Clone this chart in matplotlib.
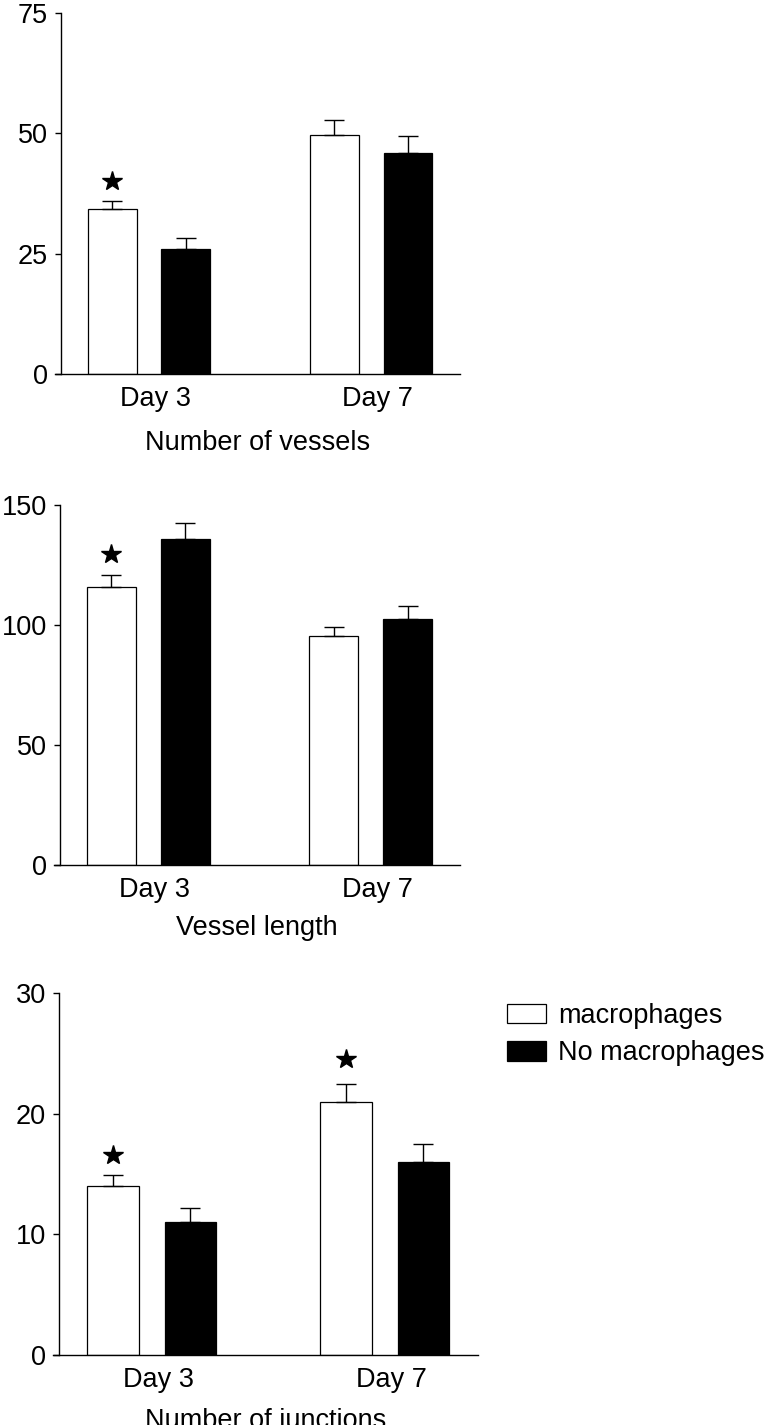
#!/usr/bin/env python3
import numpy as np
import matplotlib
matplotlib.use("Agg")
import matplotlib.pyplot as plt
from matplotlib.patches import Patch

plt.rcParams["font.family"] = ["Liberation Sans", "DejaVu Sans"]

###############################################################################
# Data
###############################################################################

DAYS = ["Day 3", "Day 7"]
SERIES = ["macrophages", "No macrophages"]

VESSELS_MAC = [34.2, 49.6]
VESSELS_MAC_ERR = [1.8, 3.1]
VESSELS_NOMAC = [26.0, 46.0]
VESSELS_NOMAC_ERR = [2.3, 3.4]
VESSELS_STARS = [(0, 40.2)]

LENGTH_MAC = [116.0, 95.3]
LENGTH_MAC_ERR = [5.0, 3.7]
LENGTH_NOMAC = [136.0, 102.4]
LENGTH_NOMAC_ERR = [6.5, 5.5]
LENGTH_STARS = [(0, 129.6)]

JUNC_MAC = [14.0, 21.0]
JUNC_MAC_ERR = [0.95, 1.46]
JUNC_NOMAC = [11.0, 16.0]
JUNC_NOMAC_ERR = [1.2, 1.45]
JUNC_STARS = [(0, 16.6), (1, 24.5)]

###############################################################################
# Layout
###############################################################################

W, H = 769, 1425
FS = 19.5
BAR_W = 0.22
OFFSET = 0.166


def px_rect(l, t, r, b):
    return [l / W, 1 - b / H, (r - l) / W, (b - t) / H]


def bar_panel(fig, rect, mac, mac_err, nomac, nomac_err, stars, ymax, step, xlabel, labelpad):
    ax = fig.add_axes(rect)
    x = np.arange(len(DAYS))

    ax.bar(x - OFFSET, mac, BAR_W, color="white", edgecolor="black", linewidth=0.9, zorder=2)
    ax.bar(x + OFFSET, nomac, BAR_W, color="black", edgecolor="black", linewidth=0.9, zorder=2)

    for xs, vals, errs in ((x - OFFSET, mac, mac_err), (x + OFFSET, nomac, nomac_err)):
        ax.errorbar(xs, vals, yerr=[np.zeros(len(errs)), errs], fmt="none",
                    ecolor="black", elinewidth=1.0, capsize=7.5, capthick=1.0, zorder=3)

    for gi, sy in stars:
        ax.plot(gi - OFFSET, sy, marker="*", color="black", markersize=15, zorder=4)

    ax.set_xlim(-0.423, 1.40)
    ax.set_ylim(0, ymax)
    ax.set_yticks(np.arange(0, ymax + 1, step))

    ax.set_xticks(x + 0.03)
    ax.set_xticklabels(DAYS)
    ax.tick_params(axis="x", length=0, pad=8.5, labelsize=FS)
    ax.tick_params(axis="y", direction="out", length=4.5, width=1.0, pad=5, labelsize=FS)

    ax.spines["top"].set_visible(False)
    ax.spines["right"].set_visible(False)
    ax.spines["left"].set_position(("axes", 0.015))
    ax.spines["left"].set_linewidth(1.0)
    ax.spines["bottom"].set_linewidth(1.0)

    ax.set_xlabel(xlabel, fontsize=FS, labelpad=labelpad)
    return ax


###############################################################################
# Main
###############################################################################

def main():
    fig = plt.figure(figsize=(W / 100, H / 100), dpi=100)

    bar_panel(fig, px_rect(55, 13, 460, 374), VESSELS_MAC, VESSELS_MAC_ERR,
              VESSELS_NOMAC, VESSELS_NOMAC_ERR, VESSELS_STARS, 75, 25,
              "Number of vessels", 13)

    bar_panel(fig, px_rect(54, 505, 460, 865), LENGTH_MAC, LENGTH_MAC_ERR,
              LENGTH_NOMAC, LENGTH_NOMAC_ERR, LENGTH_STARS, 150, 50,
              "Vessel length", 8.5)

    bar_panel(fig, px_rect(53, 993, 478, 1355), JUNC_MAC, JUNC_MAC_ERR,
              JUNC_NOMAC, JUNC_NOMAC_ERR, JUNC_STARS, 30, 10,
              "Number of junctions", 11)

    handles = [
        Patch(facecolor="white", edgecolor="black", linewidth=0.9),
        Patch(facecolor="black", edgecolor="black", linewidth=0.9),
    ]
    fig.legend(handles, SERIES, loc="upper left",
               bbox_to_anchor=(507 / W, 1 - 1003 / H), bbox_transform=fig.transFigure,
               frameon=False, fontsize=FS, borderpad=0, borderaxespad=0,
               handlelength=1.45, handleheight=0.75, handletextpad=0.45, labelspacing=0.42)

    fig.savefig("out.png", dpi=100)
    plt.close(fig)


if __name__ == "__main__":
    main()
